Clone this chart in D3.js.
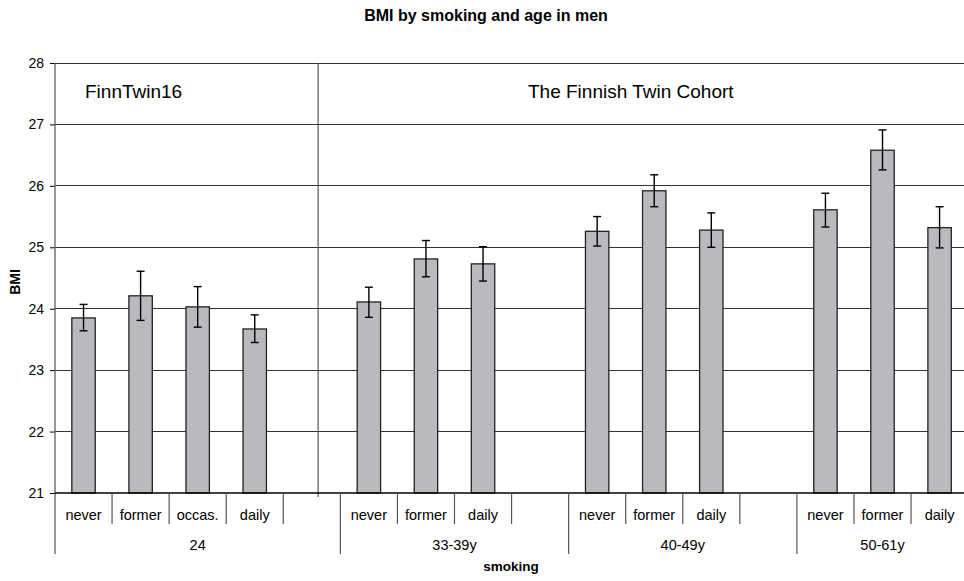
<!DOCTYPE html>
<html>
<head>
<meta charset="utf-8">
<script src="https://cdn.jsdelivr.net/npm/d3@7"></script>
<style>
  body { margin: 0; background: #fff; }
  text { font-family: Arial, "Liberation Sans", sans-serif; fill: #000; }
</style>
</head>
<body>
<div id="chart"></div>
<script>
const ageGroups = ["24", "33-39y", "40-49y", "50-61y"];
const smoking = [
  ["never", "former", "occas.", "daily"],
  ["never", "former", "daily"],
  ["never", "former", "daily"],
  ["never", "former", "daily"]
];
const bmi = [
  [23.85, 24.21, 24.03, 23.67],
  [24.11, 24.81, 24.73],
  [25.26, 25.92, 25.28],
  [25.61, 26.58, 25.32]
];
const ciLow = [
  [23.64, 23.81, 23.70, 23.45],
  [23.86, 24.52, 24.45],
  [25.02, 25.66, 25.00],
  [25.33, 26.26, 24.99]
];
const ciHigh = [
  [24.07, 24.61, 24.36, 23.90],
  [24.35, 25.11, 25.01],
  [25.50, 26.18, 25.56],
  [25.88, 26.91, 25.66]
];
const yTicks = [21, 22, 23, 24, 25, 26, 27, 28];

const w = 964, h = 581;
const plotLeft = 55, plotTop = 63, plotBottom = 493, slotW = 57.07;

// slot list: each group's categories plus an empty slot between groups
const slots = [];
const groupSpans = [];
ageGroups.forEach((g, gi) => {
  const start = slots.length;
  smoking[gi].forEach((c, ci) => {
    slots.push({ id: slots.length, cat: c, value: bmi[gi][ci], lo: ciLow[gi][ci], hi: ciHigh[gi][ci] });
  });
  if (gi < ageGroups.length - 1) slots.push({ id: slots.length, cat: "", value: null });
  groupSpans.push({ name: g, start: start, end: slots.length });
});

const x = d3.scaleBand()
  .domain(slots.map(d => d.id))
  .range([plotLeft, plotLeft + slots.length * slotW])
  .padding(0);

const y = d3.scaleLinear().domain([21, 28]).range([plotBottom, plotTop]);

const svg = d3.select("#chart").append("svg")
  .attr("width", w)
  .attr("height", h);

// gridlines
svg.append("g").selectAll("line")
  .data(yTicks.slice(1))
  .enter().append("line")
  .attr("x1", plotLeft).attr("x2", x.range()[1])
  .attr("y1", d => y(d)).attr("y2", d => y(d))
  .attr("stroke", "#333").attr("stroke-width", 1)
  .attr("shape-rendering", "crispEdges");

// divider between cohorts
const divX = x(4) + x.bandwidth() * 0.61;
svg.append("line")
  .attr("x1", divX).attr("x2", divX)
  .attr("y1", plotTop).attr("y2", plotBottom + 4)
  .attr("stroke", "#555").attr("stroke-width", 1.2);

// bars
const barW = x.bandwidth() * 0.41;
const data = slots.filter(d => d.value !== null);

svg.append("g").selectAll("rect")
  .data(data)
  .enter().append("rect")
  .attr("x", d => x(d.id) + (x.bandwidth() - barW) / 2)
  .attr("y", d => y(d.value))
  .attr("width", barW)
  .attr("height", d => y(21) - y(d.value))
  .attr("fill", "#b9babe")
  .attr("stroke", "#222")
  .attr("stroke-width", 1.3);

// error bars
const eb = svg.append("g").attr("stroke", "#000").attr("stroke-width", 1.4);
data.forEach(d => {
  const cx = x(d.id) + x.bandwidth() / 2;
  eb.append("line").attr("x1", cx).attr("x2", cx).attr("y1", y(d.hi)).attr("y2", y(d.lo));
  eb.append("line").attr("x1", cx - 4).attr("x2", cx + 4).attr("y1", y(d.hi)).attr("y2", y(d.hi));
  eb.append("line").attr("x1", cx - 4).attr("x2", cx + 4).attr("y1", y(d.lo)).attr("y2", y(d.lo));
});

// y axis
const yAxis = d3.axisLeft(y)
  .tickValues(yTicks)
  .tickSize(5)
  .tickPadding(6)
  .tickFormat(d3.format("d"));

const yg = svg.append("g")
  .attr("transform", `translate(${plotLeft}, 0)`)
  .call(yAxis);
yg.select(".domain").remove();
yg.selectAll(".tick line").attr("stroke", "#000");
yg.selectAll(".tick text")
  .style("font-size", "14px")
  .style("font-family", "Arial, 'Liberation Sans', sans-serif")
  .attr("fill", "#000");

svg.append("line")
  .attr("x1", plotLeft).attr("x2", plotLeft)
  .attr("y1", plotTop).attr("y2", 554)
  .attr("stroke", "#555").attr("stroke-width", 1.2);

// x axis line
svg.append("line")
  .attr("x1", plotLeft).attr("x2", x.range()[1])
  .attr("y1", plotBottom).attr("y2", plotBottom)
  .attr("stroke", "#000").attr("stroke-width", 1.5);

// slot boundary ticks
const groupEdges = groupSpans.map(g => g.start);
svg.append("g").selectAll("line")
  .data(d3.range(1, slots.length + 1))
  .enter().append("line")
  .attr("x1", i => plotLeft + i * slotW)
  .attr("x2", i => plotLeft + i * slotW)
  .attr("y1", plotBottom)
  .attr("y2", i => groupEdges.includes(i) ? 554 : 524)
  .attr("stroke", "#555").attr("stroke-width", 1.2);

// category labels
svg.append("g").selectAll("text")
  .data(data)
  .enter().append("text")
  .attr("x", d => x(d.id) + x.bandwidth() / 2)
  .attr("y", 520)
  .attr("text-anchor", "middle")
  .style("font-size", "14.5px")
  .text(d => d.cat);

// group labels
svg.append("g").selectAll("text")
  .data(groupSpans)
  .enter().append("text")
  .attr("x", g => (x(g.start) + plotLeft + g.end * slotW) / 2)
  .attr("y", 550)
  .attr("text-anchor", "middle")
  .style("font-size", "14.5px")
  .text(g => g.name);

// cohort labels
svg.append("text")
  .attr("x", 85).attr("y", 98)
  .style("font-size", "19px")
  .text("FinnTwin16");

svg.append("text")
  .attr("x", 528).attr("y", 98)
  .style("font-size", "19px")
  .text("The Finnish Twin Cohort");

// titles
svg.append("text")
  .attr("x", 486).attr("y", 21)
  .attr("text-anchor", "middle")
  .style("font-size", "16px")
  .style("font-weight", "bold")
  .text("BMI by smoking and age in men");

svg.append("text")
  .attr("x", 511).attr("y", 571)
  .attr("text-anchor", "middle")
  .style("font-size", "13.5px")
  .style("font-weight", "bold")
  .text("smoking");

svg.append("text")
  .attr("transform", `translate(20, 282) rotate(-90)`)
  .attr("text-anchor", "middle")
  .style("font-size", "14px")
  .style("font-weight", "bold")
  .text("BMI");
</script>
</body>
</html>
